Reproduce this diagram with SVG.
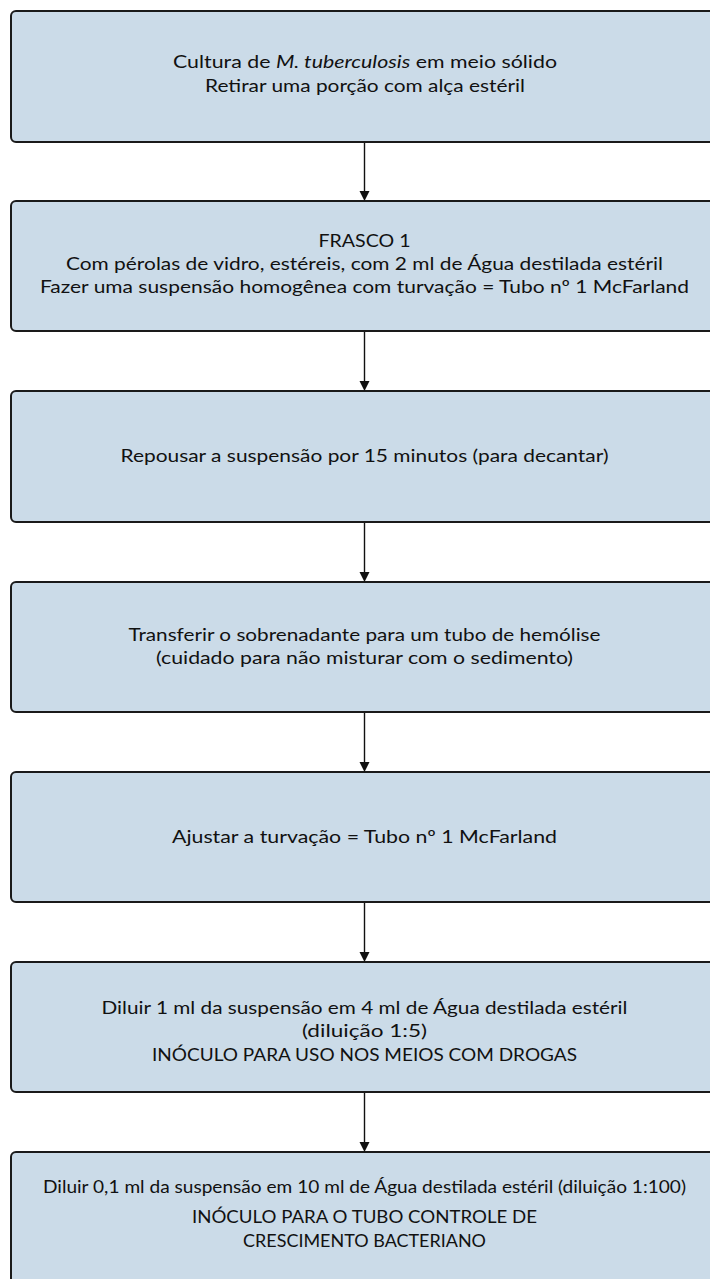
<svg xmlns="http://www.w3.org/2000/svg" width="710" height="1279" viewBox="0 0 710 1279">
<style>
.box{fill:#cbdbe8;stroke:#1a1a1a;stroke-width:2}
.t{font-family:Lato,"Open Sans","Liberation Sans",sans-serif;font-size:17.5px;fill:#111;text-anchor:middle}
.s{font-size:16.5px}
.conn line{stroke:#111;stroke-width:1.4}
.conn polygon{fill:#111}
</style>
<rect width="710" height="1279" fill="#ffffff"/>
<g id="n1">
<rect class="box" x="11" y="11" width="712" height="131" rx="5"/>
<text class="t" x="365" y="68" textLength="384" lengthAdjust="spacingAndGlyphs">Cultura de <tspan font-style="italic">M. tuberculosis</tspan> em meio sólido</text>
<text class="t" x="365" y="92" textLength="320" lengthAdjust="spacingAndGlyphs">Retirar uma porção com alça estéril</text>
</g>
<g id="n2">
<rect class="box" x="11" y="201" width="712" height="130" rx="5"/>
<text class="t" x="364.5" y="247" textLength="92" lengthAdjust="spacingAndGlyphs">FRASCO 1</text>
<text class="t" x="364.5" y="270" textLength="597" lengthAdjust="spacingAndGlyphs">Com pérolas de vidro, estéreis, com 2 ml de Água destilada estéril</text>
<text class="t" x="364.5" y="293" textLength="649" lengthAdjust="spacingAndGlyphs">Fazer uma suspensão homogênea com turvação = Tubo  nº 1 McFarland</text>
</g>
<g id="n3">
<rect class="box" x="11" y="391" width="712" height="131" rx="5"/>
<text class="t" x="364.5" y="462" textLength="488" lengthAdjust="spacingAndGlyphs">Repousar a suspensão por 15 minutos (para decantar)</text>
</g>
<g id="n4">
<rect class="box" x="11" y="582" width="712" height="130" rx="5"/>
<text class="t" x="364.5" y="641" textLength="472" lengthAdjust="spacingAndGlyphs">Transferir o sobrenadante para um tubo de hemólise</text>
<text class="t" x="364.5" y="664" textLength="417" lengthAdjust="spacingAndGlyphs">(cuidado para não misturar com o sedimento)</text>
</g>
<g id="n5">
<rect class="box" x="11" y="772" width="712" height="130" rx="5"/>
<text class="t" x="364.5" y="843" textLength="385" lengthAdjust="spacingAndGlyphs">Ajustar a turvação = Tubo  nº  1 McFarland</text>
</g>
<g id="n6">
<rect class="box" x="11" y="962" width="712" height="130" rx="5"/>
<text class="t" x="364.5" y="1014" textLength="526" lengthAdjust="spacingAndGlyphs">Diluir 1 ml da suspensão em 4 ml de Água destilada estéril</text>
<text class="t" x="364.5" y="1037" textLength="125" lengthAdjust="spacingAndGlyphs">(diluição 1:5)</text>
<text class="t" x="364.5" y="1061" textLength="425" lengthAdjust="spacingAndGlyphs">INÓCULO PARA USO NOS MEIOS COM DROGAS</text>
</g>
<g id="n7">
<rect class="box" x="11" y="1152" width="712" height="140" rx="5"/>
<text class="t s" x="364.5" y="1193" textLength="643" lengthAdjust="spacingAndGlyphs">Diluir 0,1 ml da suspensão em 10 ml de Água destilada estéril (diluição 1:100)</text>
<text class="t" x="364.5" y="1223" textLength="345" lengthAdjust="spacingAndGlyphs">INÓCULO PARA O TUBO CONTROLE DE</text>
<text class="t" x="364.5" y="1247" textLength="243" lengthAdjust="spacingAndGlyphs">CRESCIMENTO BACTERIANO</text>
</g>
<g id="connectors" class="conn">
<line x1="364.5" y1="143" x2="364.5" y2="192"/><polygon points="359.5,191 369.5,191 364.5,201"/>
<line x1="364.5" y1="332" x2="364.5" y2="382"/><polygon points="359.5,381 369.5,381 364.5,391"/>
<line x1="364.5" y1="523" x2="364.5" y2="573"/><polygon points="359.5,572 369.5,572 364.5,582"/>
<line x1="364.5" y1="713" x2="364.5" y2="763"/><polygon points="359.5,762 369.5,762 364.5,772"/>
<line x1="364.5" y1="903" x2="364.5" y2="953"/><polygon points="359.5,952 369.5,952 364.5,962"/>
<line x1="364.5" y1="1093" x2="364.5" y2="1143"/><polygon points="359.5,1142 369.5,1142 364.5,1152"/>
</g>
</svg>
